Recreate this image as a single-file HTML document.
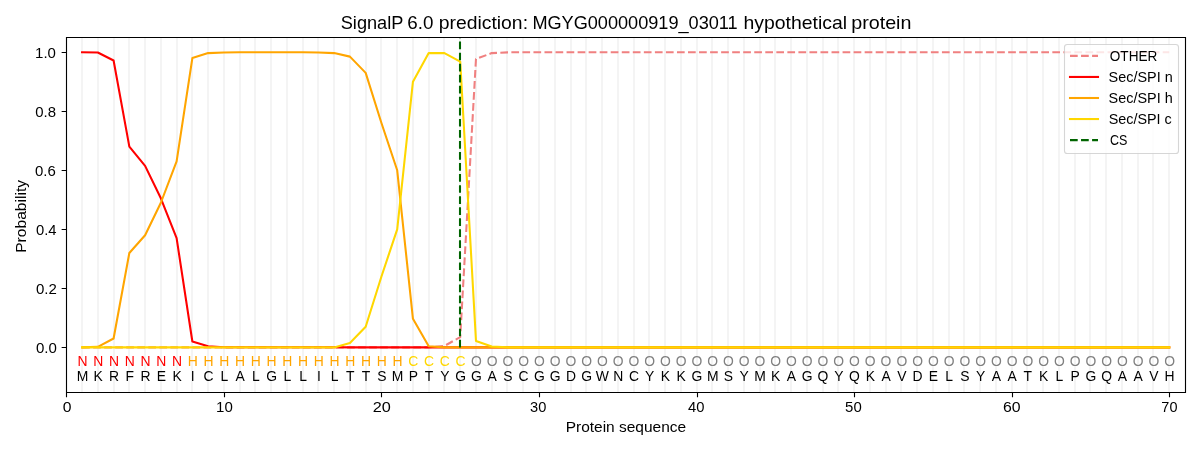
<!DOCTYPE html>
<html><head><meta charset="utf-8"><style>
html,body{margin:0;padding:0;background:#fff;}
body{width:1200px;height:450px;overflow:hidden;}
svg{display:block;will-change:transform;}
text{font-family:"Liberation Sans", sans-serif;}
</style></head><body>
<svg width="1200" height="450" viewBox="0 0 1200 450">
<rect x="0" y="0" width="1200" height="450" fill="#fff"/>
<defs><clipPath id="ax"><rect x="66.5" y="37.5" width="1119" height="355"/></clipPath></defs>

<path d="M82,37.5V392.5 M98,37.5V392.5 M114,37.5V392.5 M129,37.5V392.5 M145,37.5V392.5 M161,37.5V392.5 M177,37.5V392.5 M192,37.5V392.5 M208,37.5V392.5 M224,37.5V392.5 M240,37.5V392.5 M255,37.5V392.5 M271,37.5V392.5 M287,37.5V392.5 M303,37.5V392.5 M318,37.5V392.5 M334,37.5V392.5 M350,37.5V392.5 M366,37.5V392.5 M381,37.5V392.5 M397,37.5V392.5 M413,37.5V392.5 M429,37.5V392.5 M444,37.5V392.5 M460,37.5V392.5 M476,37.5V392.5 M492,37.5V392.5 M507,37.5V392.5 M523,37.5V392.5 M539,37.5V392.5 M555,37.5V392.5 M571,37.5V392.5 M586,37.5V392.5 M602,37.5V392.5 M618,37.5V392.5 M634,37.5V392.5 M649,37.5V392.5 M665,37.5V392.5 M681,37.5V392.5 M697,37.5V392.5 M712,37.5V392.5 M728,37.5V392.5 M744,37.5V392.5 M760,37.5V392.5 M775,37.5V392.5 M791,37.5V392.5 M807,37.5V392.5 M823,37.5V392.5 M838,37.5V392.5 M854,37.5V392.5 M870,37.5V392.5 M886,37.5V392.5 M901,37.5V392.5 M917,37.5V392.5 M933,37.5V392.5 M949,37.5V392.5 M964,37.5V392.5 M980,37.5V392.5 M996,37.5V392.5 M1012,37.5V392.5 M1027,37.5V392.5 M1043,37.5V392.5 M1059,37.5V392.5 M1075,37.5V392.5 M1090,37.5V392.5 M1106,37.5V392.5 M1122,37.5V392.5 M1138,37.5V392.5 M1153,37.5V392.5 M1169,37.5V392.5" stroke="#f4f4f4" stroke-width="2" fill="none"/>
<g clip-path="url(#ax)" fill="none" stroke-width="2.08" stroke-linejoin="round" stroke-linecap="square">
<path d="M82.08,347.40 L97.83,347.40 L113.59,347.40 L129.34,347.40 L145.10,347.40 L160.86,347.40 L176.61,347.40 L192.37,347.40 L208.12,347.40 L223.88,347.40 L239.64,347.40 L255.39,347.40 L271.15,347.40 L286.90,347.40 L302.66,347.40 L318.42,347.40 L334.17,347.40 L349.93,347.40 L365.68,347.40 L381.44,347.40 L397.20,347.40 L412.95,347.40 L428.71,347.40 L444.46,345.92 L460.22,337.07 L475.98,58.99 L491.73,53.09 L507.49,52.35 L523.24,52.20 L539.00,52.20 L554.76,52.20 L570.51,52.20 L586.27,52.20 L602.02,52.20 L617.78,52.20 L633.54,52.20 L649.29,52.20 L665.05,52.20 L680.80,52.20 L696.56,52.20 L712.32,52.20 L728.07,52.20 L743.83,52.20 L759.58,52.20 L775.34,52.20 L791.10,52.20 L806.85,52.20 L822.61,52.20 L838.36,52.20 L854.12,52.20 L869.88,52.20 L885.63,52.20 L901.39,52.20 L917.14,52.20 L932.90,52.20 L948.66,52.20 L964.41,52.20 L980.17,52.20 L995.92,52.20 L1011.68,52.20 L1027.44,52.20 L1043.19,52.20 L1058.95,52.20 L1074.70,52.20 L1090.46,52.20 L1106.22,52.20 L1121.97,52.20 L1137.73,52.20 L1153.48,52.20 L1169.24,52.20" stroke="#f08080" stroke-dasharray="7.71 3.33" stroke-linecap="butt"/>
<path d="M82.08,52.20 L97.83,52.50 L113.59,60.47 L129.34,146.66 L145.10,165.85 L160.86,198.32 L176.61,238.18 L192.37,341.50 L208.12,346.22 L223.88,347.25 L239.64,347.25 L255.39,347.25 L271.15,347.25 L286.90,347.25 L302.66,347.25 L318.42,347.25 L334.17,347.25 L349.93,347.40 L365.68,347.40 L381.44,347.40 L397.20,347.40 L412.95,347.40 L428.71,347.40 L444.46,347.40 L460.22,347.40 L475.98,347.40 L491.73,347.40 L507.49,347.40 L523.24,347.40 L539.00,347.40 L554.76,347.40 L570.51,347.40 L586.27,347.40 L602.02,347.40 L617.78,347.40 L633.54,347.40 L649.29,347.40 L665.05,347.40 L680.80,347.40 L696.56,347.40 L712.32,347.40 L728.07,347.40 L743.83,347.40 L759.58,347.40 L775.34,347.40 L791.10,347.40 L806.85,347.40 L822.61,347.40 L838.36,347.40 L854.12,347.40 L869.88,347.40 L885.63,347.40 L901.39,347.40 L917.14,347.40 L932.90,347.40 L948.66,347.40 L964.41,347.40 L980.17,347.40 L995.92,347.40 L1011.68,347.40 L1027.44,347.40 L1043.19,347.40 L1058.95,347.40 L1074.70,347.40 L1090.46,347.40 L1106.22,347.40 L1121.97,347.40 L1137.73,347.40 L1153.48,347.40 L1169.24,347.40" stroke="#ff0000"/>
<path d="M82.08,347.40 L97.83,346.81 L113.59,338.54 L129.34,252.94 L145.10,235.22 L160.86,202.75 L176.61,161.42 L192.37,58.10 L208.12,53.09 L223.88,52.50 L239.64,52.20 L255.39,52.20 L271.15,52.20 L286.90,52.20 L302.66,52.20 L318.42,52.50 L334.17,53.09 L349.93,56.63 L365.68,72.86 L381.44,123.05 L397.20,170.28 L412.95,318.77 L428.71,346.22 L444.46,347.40 L460.22,347.40 L475.98,347.40 L491.73,347.40 L507.49,347.40 L523.24,347.40 L539.00,347.40 L554.76,347.40 L570.51,347.40 L586.27,347.40 L602.02,347.40 L617.78,347.40 L633.54,347.40 L649.29,347.40 L665.05,347.40 L680.80,347.40 L696.56,347.40 L712.32,347.40 L728.07,347.40 L743.83,347.40 L759.58,347.40 L775.34,347.40 L791.10,347.40 L806.85,347.40 L822.61,347.40 L838.36,347.40 L854.12,347.40 L869.88,347.40 L885.63,347.40 L901.39,347.40 L917.14,347.40 L932.90,347.40 L948.66,347.40 L964.41,347.40 L980.17,347.40 L995.92,347.40 L1011.68,347.40 L1027.44,347.40 L1043.19,347.40 L1058.95,347.40 L1074.70,347.40 L1090.46,347.40 L1106.22,347.40 L1121.97,347.40 L1137.73,347.40 L1153.48,347.40 L1169.24,347.40" stroke="#ffa500"/>
<path d="M82.08,347.40 L97.83,347.40 L113.59,347.40 L129.34,347.40 L145.10,347.40 L160.86,347.40 L176.61,347.40 L192.37,347.40 L208.12,347.40 L223.88,347.40 L239.64,347.40 L255.39,347.40 L271.15,347.40 L286.90,347.40 L302.66,347.40 L318.42,347.40 L334.17,347.40 L349.93,342.97 L365.68,326.74 L381.44,276.55 L397.20,229.32 L412.95,81.72 L428.71,53.09 L444.46,53.09 L460.22,61.65 L475.98,340.91 L491.73,346.51 L507.49,347.40 L523.24,347.40 L539.00,347.40 L554.76,347.40 L570.51,347.40 L586.27,347.40 L602.02,347.40 L617.78,347.40 L633.54,347.40 L649.29,347.40 L665.05,347.40 L680.80,347.40 L696.56,347.40 L712.32,347.40 L728.07,347.40 L743.83,347.40 L759.58,347.40 L775.34,347.40 L791.10,347.40 L806.85,347.40 L822.61,347.40 L838.36,347.40 L854.12,347.40 L869.88,347.40 L885.63,347.40 L901.39,347.40 L917.14,347.40 L932.90,347.40 L948.66,347.40 L964.41,347.40 L980.17,347.40 L995.92,347.40 L1011.68,347.40 L1027.44,347.40 L1043.19,347.40 L1058.95,347.40 L1074.70,347.40 L1090.46,347.40 L1106.22,347.40 L1121.97,347.40 L1137.73,347.40 L1153.48,347.40 L1169.24,347.40" stroke="#ffd700"/>
<path d="M460,347.40V34.49" stroke="#006400" stroke-dasharray="7.71 3.33" stroke-linecap="butt"/>
</g>
<text x="82.48" y="366" fill="#ff0000" text-anchor="middle" font-size="13.9">N</text>
<text x="82.48" y="381" fill="#000" text-anchor="middle" font-size="13.9">M</text>
<text x="98.23" y="366" fill="#ff0000" text-anchor="middle" font-size="13.9">N</text>
<text x="98.23" y="381" fill="#000" text-anchor="middle" font-size="13.9">K</text>
<text x="113.99" y="366" fill="#ff0000" text-anchor="middle" font-size="13.9">N</text>
<text x="113.99" y="381" fill="#000" text-anchor="middle" font-size="13.9">R</text>
<text x="129.74" y="366" fill="#ff0000" text-anchor="middle" font-size="13.9">N</text>
<text x="129.74" y="381" fill="#000" text-anchor="middle" font-size="13.9">F</text>
<text x="145.50" y="366" fill="#ff0000" text-anchor="middle" font-size="13.9">N</text>
<text x="145.50" y="381" fill="#000" text-anchor="middle" font-size="13.9">R</text>
<text x="161.26" y="366" fill="#ff0000" text-anchor="middle" font-size="13.9">N</text>
<text x="161.26" y="381" fill="#000" text-anchor="middle" font-size="13.9">E</text>
<text x="177.01" y="366" fill="#ff0000" text-anchor="middle" font-size="13.9">N</text>
<text x="177.01" y="381" fill="#000" text-anchor="middle" font-size="13.9">K</text>
<text x="192.77" y="366" fill="#ffa500" text-anchor="middle" font-size="13.9">H</text>
<text x="192.77" y="381" fill="#000" text-anchor="middle" font-size="13.9">I</text>
<text x="208.52" y="366" fill="#ffa500" text-anchor="middle" font-size="13.9">H</text>
<text x="208.52" y="381" fill="#000" text-anchor="middle" font-size="13.9">C</text>
<text x="224.28" y="366" fill="#ffa500" text-anchor="middle" font-size="13.9">H</text>
<text x="224.28" y="381" fill="#000" text-anchor="middle" font-size="13.9">L</text>
<text x="240.04" y="366" fill="#ffa500" text-anchor="middle" font-size="13.9">H</text>
<text x="240.04" y="381" fill="#000" text-anchor="middle" font-size="13.9">A</text>
<text x="255.79" y="366" fill="#ffa500" text-anchor="middle" font-size="13.9">H</text>
<text x="255.79" y="381" fill="#000" text-anchor="middle" font-size="13.9">L</text>
<text x="271.55" y="366" fill="#ffa500" text-anchor="middle" font-size="13.9">H</text>
<text x="271.55" y="381" fill="#000" text-anchor="middle" font-size="13.9">G</text>
<text x="287.30" y="366" fill="#ffa500" text-anchor="middle" font-size="13.9">H</text>
<text x="287.30" y="381" fill="#000" text-anchor="middle" font-size="13.9">L</text>
<text x="303.06" y="366" fill="#ffa500" text-anchor="middle" font-size="13.9">H</text>
<text x="303.06" y="381" fill="#000" text-anchor="middle" font-size="13.9">L</text>
<text x="318.82" y="366" fill="#ffa500" text-anchor="middle" font-size="13.9">H</text>
<text x="318.82" y="381" fill="#000" text-anchor="middle" font-size="13.9">I</text>
<text x="334.57" y="366" fill="#ffa500" text-anchor="middle" font-size="13.9">H</text>
<text x="334.57" y="381" fill="#000" text-anchor="middle" font-size="13.9">L</text>
<text x="350.33" y="366" fill="#ffa500" text-anchor="middle" font-size="13.9">H</text>
<text x="350.33" y="381" fill="#000" text-anchor="middle" font-size="13.9">T</text>
<text x="366.08" y="366" fill="#ffa500" text-anchor="middle" font-size="13.9">H</text>
<text x="366.08" y="381" fill="#000" text-anchor="middle" font-size="13.9">T</text>
<text x="381.84" y="366" fill="#ffa500" text-anchor="middle" font-size="13.9">H</text>
<text x="381.84" y="381" fill="#000" text-anchor="middle" font-size="13.9">S</text>
<text x="397.60" y="366" fill="#ffa500" text-anchor="middle" font-size="13.9">H</text>
<text x="397.60" y="381" fill="#000" text-anchor="middle" font-size="13.9">M</text>
<text x="413.35" y="366" fill="#ffd700" text-anchor="middle" font-size="13.9">C</text>
<text x="413.35" y="381" fill="#000" text-anchor="middle" font-size="13.9">P</text>
<text x="429.11" y="366" fill="#ffd700" text-anchor="middle" font-size="13.9">C</text>
<text x="429.11" y="381" fill="#000" text-anchor="middle" font-size="13.9">T</text>
<text x="444.86" y="366" fill="#ffd700" text-anchor="middle" font-size="13.9">C</text>
<text x="444.86" y="381" fill="#000" text-anchor="middle" font-size="13.9">Y</text>
<text x="460.62" y="366" fill="#ffd700" text-anchor="middle" font-size="13.9">C</text>
<text x="460.62" y="381" fill="#000" text-anchor="middle" font-size="13.9">G</text>
<text x="476.38" y="366" fill="#808080" text-anchor="middle" font-size="13.9">O</text>
<text x="476.38" y="381" fill="#000" text-anchor="middle" font-size="13.9">G</text>
<text x="492.13" y="366" fill="#808080" text-anchor="middle" font-size="13.9">O</text>
<text x="492.13" y="381" fill="#000" text-anchor="middle" font-size="13.9">A</text>
<text x="507.89" y="366" fill="#808080" text-anchor="middle" font-size="13.9">O</text>
<text x="507.89" y="381" fill="#000" text-anchor="middle" font-size="13.9">S</text>
<text x="523.64" y="366" fill="#808080" text-anchor="middle" font-size="13.9">O</text>
<text x="523.64" y="381" fill="#000" text-anchor="middle" font-size="13.9">C</text>
<text x="539.40" y="366" fill="#808080" text-anchor="middle" font-size="13.9">O</text>
<text x="539.40" y="381" fill="#000" text-anchor="middle" font-size="13.9">G</text>
<text x="555.16" y="366" fill="#808080" text-anchor="middle" font-size="13.9">O</text>
<text x="555.16" y="381" fill="#000" text-anchor="middle" font-size="13.9">G</text>
<text x="570.91" y="366" fill="#808080" text-anchor="middle" font-size="13.9">O</text>
<text x="570.91" y="381" fill="#000" text-anchor="middle" font-size="13.9">D</text>
<text x="586.67" y="366" fill="#808080" text-anchor="middle" font-size="13.9">O</text>
<text x="586.67" y="381" fill="#000" text-anchor="middle" font-size="13.9">G</text>
<text x="602.42" y="366" fill="#808080" text-anchor="middle" font-size="13.9">O</text>
<text x="602.42" y="381" fill="#000" text-anchor="middle" font-size="13.9">W</text>
<text x="618.18" y="366" fill="#808080" text-anchor="middle" font-size="13.9">O</text>
<text x="618.18" y="381" fill="#000" text-anchor="middle" font-size="13.9">N</text>
<text x="633.94" y="366" fill="#808080" text-anchor="middle" font-size="13.9">O</text>
<text x="633.94" y="381" fill="#000" text-anchor="middle" font-size="13.9">C</text>
<text x="649.69" y="366" fill="#808080" text-anchor="middle" font-size="13.9">O</text>
<text x="649.69" y="381" fill="#000" text-anchor="middle" font-size="13.9">Y</text>
<text x="665.45" y="366" fill="#808080" text-anchor="middle" font-size="13.9">O</text>
<text x="665.45" y="381" fill="#000" text-anchor="middle" font-size="13.9">K</text>
<text x="681.20" y="366" fill="#808080" text-anchor="middle" font-size="13.9">O</text>
<text x="681.20" y="381" fill="#000" text-anchor="middle" font-size="13.9">K</text>
<text x="696.96" y="366" fill="#808080" text-anchor="middle" font-size="13.9">O</text>
<text x="696.96" y="381" fill="#000" text-anchor="middle" font-size="13.9">G</text>
<text x="712.72" y="366" fill="#808080" text-anchor="middle" font-size="13.9">O</text>
<text x="712.72" y="381" fill="#000" text-anchor="middle" font-size="13.9">M</text>
<text x="728.47" y="366" fill="#808080" text-anchor="middle" font-size="13.9">O</text>
<text x="728.47" y="381" fill="#000" text-anchor="middle" font-size="13.9">S</text>
<text x="744.23" y="366" fill="#808080" text-anchor="middle" font-size="13.9">O</text>
<text x="744.23" y="381" fill="#000" text-anchor="middle" font-size="13.9">Y</text>
<text x="759.98" y="366" fill="#808080" text-anchor="middle" font-size="13.9">O</text>
<text x="759.98" y="381" fill="#000" text-anchor="middle" font-size="13.9">M</text>
<text x="775.74" y="366" fill="#808080" text-anchor="middle" font-size="13.9">O</text>
<text x="775.74" y="381" fill="#000" text-anchor="middle" font-size="13.9">K</text>
<text x="791.50" y="366" fill="#808080" text-anchor="middle" font-size="13.9">O</text>
<text x="791.50" y="381" fill="#000" text-anchor="middle" font-size="13.9">A</text>
<text x="807.25" y="366" fill="#808080" text-anchor="middle" font-size="13.9">O</text>
<text x="807.25" y="381" fill="#000" text-anchor="middle" font-size="13.9">G</text>
<text x="823.01" y="366" fill="#808080" text-anchor="middle" font-size="13.9">O</text>
<text x="823.01" y="381" fill="#000" text-anchor="middle" font-size="13.9">Q</text>
<text x="838.76" y="366" fill="#808080" text-anchor="middle" font-size="13.9">O</text>
<text x="838.76" y="381" fill="#000" text-anchor="middle" font-size="13.9">Y</text>
<text x="854.52" y="366" fill="#808080" text-anchor="middle" font-size="13.9">O</text>
<text x="854.52" y="381" fill="#000" text-anchor="middle" font-size="13.9">Q</text>
<text x="870.28" y="366" fill="#808080" text-anchor="middle" font-size="13.9">O</text>
<text x="870.28" y="381" fill="#000" text-anchor="middle" font-size="13.9">K</text>
<text x="886.03" y="366" fill="#808080" text-anchor="middle" font-size="13.9">O</text>
<text x="886.03" y="381" fill="#000" text-anchor="middle" font-size="13.9">A</text>
<text x="901.79" y="366" fill="#808080" text-anchor="middle" font-size="13.9">O</text>
<text x="901.79" y="381" fill="#000" text-anchor="middle" font-size="13.9">V</text>
<text x="917.54" y="366" fill="#808080" text-anchor="middle" font-size="13.9">O</text>
<text x="917.54" y="381" fill="#000" text-anchor="middle" font-size="13.9">D</text>
<text x="933.30" y="366" fill="#808080" text-anchor="middle" font-size="13.9">O</text>
<text x="933.30" y="381" fill="#000" text-anchor="middle" font-size="13.9">E</text>
<text x="949.06" y="366" fill="#808080" text-anchor="middle" font-size="13.9">O</text>
<text x="949.06" y="381" fill="#000" text-anchor="middle" font-size="13.9">L</text>
<text x="964.81" y="366" fill="#808080" text-anchor="middle" font-size="13.9">O</text>
<text x="964.81" y="381" fill="#000" text-anchor="middle" font-size="13.9">S</text>
<text x="980.57" y="366" fill="#808080" text-anchor="middle" font-size="13.9">O</text>
<text x="980.57" y="381" fill="#000" text-anchor="middle" font-size="13.9">Y</text>
<text x="996.32" y="366" fill="#808080" text-anchor="middle" font-size="13.9">O</text>
<text x="996.32" y="381" fill="#000" text-anchor="middle" font-size="13.9">A</text>
<text x="1012.08" y="366" fill="#808080" text-anchor="middle" font-size="13.9">O</text>
<text x="1012.08" y="381" fill="#000" text-anchor="middle" font-size="13.9">A</text>
<text x="1027.84" y="366" fill="#808080" text-anchor="middle" font-size="13.9">O</text>
<text x="1027.84" y="381" fill="#000" text-anchor="middle" font-size="13.9">T</text>
<text x="1043.59" y="366" fill="#808080" text-anchor="middle" font-size="13.9">O</text>
<text x="1043.59" y="381" fill="#000" text-anchor="middle" font-size="13.9">K</text>
<text x="1059.35" y="366" fill="#808080" text-anchor="middle" font-size="13.9">O</text>
<text x="1059.35" y="381" fill="#000" text-anchor="middle" font-size="13.9">L</text>
<text x="1075.10" y="366" fill="#808080" text-anchor="middle" font-size="13.9">O</text>
<text x="1075.10" y="381" fill="#000" text-anchor="middle" font-size="13.9">P</text>
<text x="1090.86" y="366" fill="#808080" text-anchor="middle" font-size="13.9">O</text>
<text x="1090.86" y="381" fill="#000" text-anchor="middle" font-size="13.9">G</text>
<text x="1106.62" y="366" fill="#808080" text-anchor="middle" font-size="13.9">O</text>
<text x="1106.62" y="381" fill="#000" text-anchor="middle" font-size="13.9">Q</text>
<text x="1122.37" y="366" fill="#808080" text-anchor="middle" font-size="13.9">O</text>
<text x="1122.37" y="381" fill="#000" text-anchor="middle" font-size="13.9">A</text>
<text x="1138.13" y="366" fill="#808080" text-anchor="middle" font-size="13.9">O</text>
<text x="1138.13" y="381" fill="#000" text-anchor="middle" font-size="13.9">A</text>
<text x="1153.88" y="366" fill="#808080" text-anchor="middle" font-size="13.9">O</text>
<text x="1153.88" y="381" fill="#000" text-anchor="middle" font-size="13.9">V</text>
<text x="1169.64" y="366" fill="#808080" text-anchor="middle" font-size="13.9">O</text>
<text x="1169.64" y="381" fill="#000" text-anchor="middle" font-size="13.9">H</text>
<path d="M66.5,37.5H1185.5V392.5H66.5Z" stroke="#000" stroke-width="1.11" fill="none"/>
<path d="M66.5,392.5v4.86 M224.5,392.5v4.86 M381.5,392.5v4.86 M539.5,392.5v4.86 M697.5,392.5v4.86 M854.5,392.5v4.86 M1012.5,392.5v4.86 M1169.5,392.5v4.86 M66.5,347.5h-4.86 M66.5,288.5h-4.86 M66.5,229.5h-4.86 M66.5,170.5h-4.86 M66.5,111.5h-4.86 M66.5,52.5h-4.86" stroke="#000" stroke-width="1.11" fill="none"/>
<rect x="1064.5" y="44.5" width="114" height="109" rx="2.8" fill="#fff" fill-opacity="0.8" stroke="#cccccc" stroke-opacity="0.8" stroke-width="1.11"/>
<path d="M1070,55.90H1098" stroke="#f08080" stroke-width="2.08" stroke-dasharray="7.71 3.33"/>
<path d="M1070,76.95H1098" stroke="#ff0000" stroke-width="2.08" stroke-linecap="square"/>
<path d="M1070,98.00H1098" stroke="#ffa500" stroke-width="2.08" stroke-linecap="square"/>
<path d="M1070,119.05H1098" stroke="#ffd700" stroke-width="2.08" stroke-linecap="square"/>
<path d="M1070,140.10H1098" stroke="#006400" stroke-width="2.08" stroke-dasharray="7.71 3.33"/>
<text transform="translate(340.72,28.80) scale(0.9727,1)" text-anchor="start" font-size="18.7" fill="#000">SignalP</text>
<text transform="translate(407.21,28.80) scale(1.0055,1)" text-anchor="start" font-size="18.7" fill="#000">6.0</text>
<text transform="translate(438.74,28.80) scale(1.0359,1)" text-anchor="start" font-size="18.7" fill="#000">prediction:</text>
<text transform="translate(532.38,28.80) scale(0.9708,1)" text-anchor="start" font-size="18.7" fill="#000">MGYG000000919_03011</text>
<text transform="translate(743.51,28.80) scale(1.0382,1)" text-anchor="start" font-size="18.7" fill="#000">hypothetical</text>
<text transform="translate(851.18,28.80) scale(1.0541,1)" text-anchor="start" font-size="18.7" fill="#000">protein</text>
<text transform="translate(625.91,431.80) scale(1.0683,1)" text-anchor="middle" font-size="14.5" fill="#000">Protein sequence</text>
<text transform="translate(25.90,216.41) rotate(-90) scale(1.0778,1)" text-anchor="middle" font-size="14.5" fill="#000">Probability</text>
<text transform="translate(56.90,352.80) scale(1.0377,1)" text-anchor="end" font-size="14.5" fill="#000">0.0</text>
<text transform="translate(56.83,293.80) scale(1.0358,1)" text-anchor="end" font-size="14.5" fill="#000">0.2</text>
<text transform="translate(56.57,234.80) scale(1.0214,1)" text-anchor="end" font-size="14.5" fill="#000">0.4</text>
<text transform="translate(55.77,175.80) scale(1.0328,1)" text-anchor="end" font-size="14.5" fill="#000">0.6</text>
<text transform="translate(56.04,116.80) scale(1.0315,1)" text-anchor="end" font-size="14.5" fill="#000">0.8</text>
<text transform="translate(55.94,57.80) scale(1.0343,1)" text-anchor="end" font-size="14.5" fill="#000">1.0</text>
<text transform="translate(67.23,411.80) scale(1.0844,1)" text-anchor="middle" font-size="14.5" fill="#000">0</text>
<text transform="translate(224.42,411.80) scale(1.0366,1)" text-anchor="middle" font-size="14.5" fill="#000">10</text>
<text transform="translate(381.72,411.80) scale(1.1223,1)" text-anchor="middle" font-size="14.5" fill="#000">20</text>
<text transform="translate(538.19,411.80) scale(1.0086,1)" text-anchor="middle" font-size="14.5" fill="#000">30</text>
<text transform="translate(696.32,411.80) scale(1.0201,1)" text-anchor="middle" font-size="14.5" fill="#000">40</text>
<text transform="translate(853.38,411.80) scale(1.0320,1)" text-anchor="middle" font-size="14.5" fill="#000">50</text>
<text transform="translate(1011.82,411.80) scale(1.0937,1)" text-anchor="middle" font-size="14.5" fill="#000">60</text>
<text transform="translate(1169.40,411.80) scale(0.9974,1)" text-anchor="middle" font-size="14.5" fill="#000">70</text>
<text transform="translate(1109.77,60.80) scale(0.9370,1)" text-anchor="start" font-size="14.5" fill="#000">OTHER</text>
<text transform="translate(1108.62,81.83) scale(0.9954,1)" text-anchor="start" font-size="14.5" fill="#000">Sec/SPI n</text>
<text transform="translate(1108.62,102.86) scale(0.9954,1)" text-anchor="start" font-size="14.5" fill="#000">Sec/SPI h</text>
<text transform="translate(1108.63,123.89) scale(0.9931,1)" text-anchor="start" font-size="14.5" fill="#000">Sec/SPI c</text>
<text transform="translate(1109.90,144.92) scale(0.8640,1)" text-anchor="start" font-size="14.5" fill="#000">CS</text>
</svg></body></html>
